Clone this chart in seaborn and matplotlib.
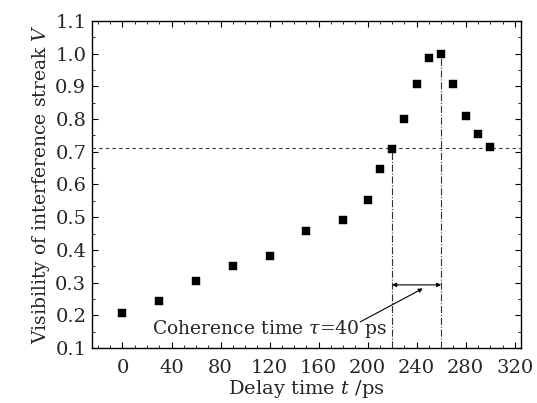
import matplotlib
matplotlib.use("Agg")
import matplotlib.pyplot as plt
from matplotlib.ticker import MultipleLocator
import seaborn as sns
import pandas as pd

# delay time (ps) and visibility
delay_ps = [0, 30, 60, 90, 120, 150, 180, 200, 210, 220, 230, 240, 250, 260, 270, 280, 290, 300]
visibility = [0.206, 0.243, 0.305, 0.351, 0.381, 0.459, 0.490, 0.553, 0.646,
              0.708, 0.800, 0.908, 0.986, 1.000, 0.908, 0.809, 0.754, 0.714]

half_level = 0.71
t_left = 220
t_right = 260
x_ticks = [0, 40, 80, 120, 160, 200, 240, 280, 320]

data = pd.DataFrame({"delay": delay_ps, "vis": visibility})

sns.set_style("ticks")
plt.rcParams["font.family"] = ["DejaVu Serif"]
plt.rcParams["mathtext.fontset"] = "dejavuserif"

fig = plt.figure(figsize=(5.37, 4.03), dpi=100)
ax = fig.add_axes([0.171, 0.1365, 0.799, 0.8115])

sns.scatterplot(data=data, x="delay", y="vis", marker="s", color="black",
                s=26, edgecolor="black", linewidth=0.3, ax=ax, zorder=3)

# half-max guide lines
ax.axhline(half_level, color="#333333", lw=0.8, ls=(0, (3, 3)))
ax.plot([t_left, t_left], [0.1, half_level], color="#333333", lw=0.8, ls="-.")
ax.plot([t_right, t_right], [0.1, 1.0], color="#333333", lw=0.8, ls="-.")

# coherence time width
ax.annotate("", xy=(t_left, 0.293), xytext=(t_right, 0.293),
            arrowprops=dict(arrowstyle="<|-|>", color="black", lw=0.8,
                            mutation_scale=6, shrinkA=0, shrinkB=0))
ax.annotate("", xy=(245, 0.282), xytext=(194, 0.18),
            arrowprops=dict(arrowstyle="-|>", color="black", lw=0.8,
                            mutation_scale=6, shrinkA=0, shrinkB=0))
ax.text(24, 0.158, r"Coherence time $\tau$=40 ps", fontsize=13.5,
        va="center", ha="left")

ax.set_xlim(-25, 325)
ax.set_ylim(0.1, 1.1)
ax.set_xticks(x_ticks)
ax.xaxis.set_minor_locator(MultipleLocator(10))
ax.yaxis.set_major_locator(MultipleLocator(0.1))
ax.yaxis.set_minor_locator(MultipleLocator(0.05))
ax.yaxis.set_major_formatter(matplotlib.ticker.FormatStrFormatter("%.1f"))
ax.tick_params(which="both", direction="in", top=True, right=True, color="black")
ax.tick_params(which="major", length=4, width=0.8, labelsize=14, pad=4)
ax.tick_params(axis="x", which="major", pad=8)
ax.tick_params(which="minor", length=2, width=0.6)
for sp in ax.spines.values():
    sp.set_linewidth(1.0)
    sp.set_color("black")

ax.set_xlabel(r"Delay time $t$ /ps", fontsize=14, labelpad=1)
ax.set_ylabel(r"Visibility of interference streak $V$", fontsize=13.5, labelpad=2)

fig.savefig("out.png", dpi=100)
